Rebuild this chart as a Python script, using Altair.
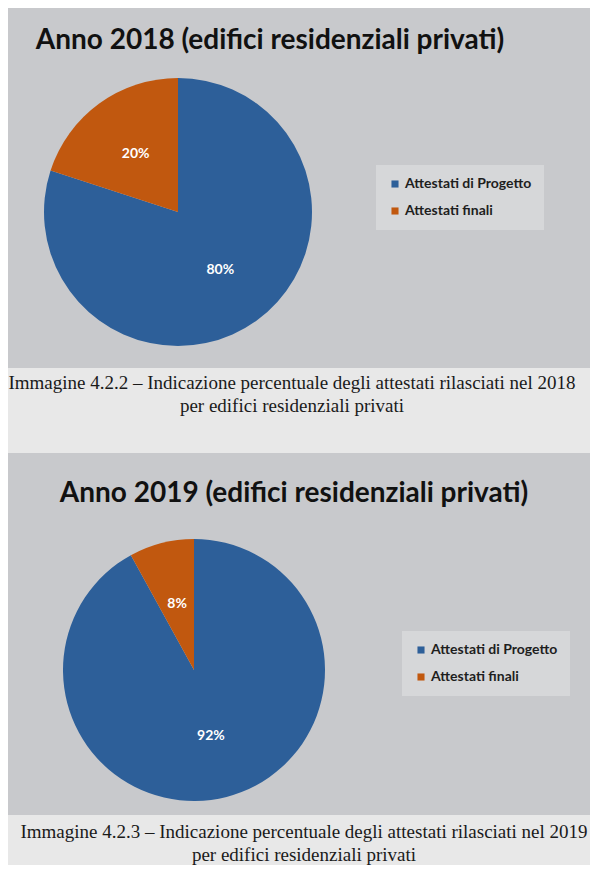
import altair as alt
import pandas as pd

categories = ["Attestati di Progetto", "Attestati finali"]
values_2018 = [80, 20]
values_2019 = [92, 8]
labels_2018 = ["80%", "20%"]
labels_2019 = ["92%", "8%"]
titles = ["Anno 2018 (edifici residenziali privati)", "Anno 2019 (edifici residenziali privati)"]
captions = [
    "Immagine 4.2.2 – Indicazione percentuale degli attestati rilasciati nel 2018\nper edifici residenziali privati",
    "Immagine 4.2.3 – Indicazione percentuale degli attestati rilasciati nel 2019\nper edifici residenziali privati",
]
colors = ["#2d5f99", "#c1580f"]

PANEL_W = 582
PANEL_BG = "#c8c9cc"
PAGE_BG = "#e8e8e8"


def pie_panel(values, labels, title, height, cx, cy, r, label_r, title_x, title_y, leg_x, leg_y):
    df = pd.DataFrame({"cat": categories, "val": values, "lab": labels, "ord": [0, 1]})
    base = alt.Chart(df).encode(
        theta=alt.Theta("val:Q", stack=True),
        order=alt.Order("ord:Q"),
    )
    arc = base.mark_arc(radius=r, stroke=None).encode(
        x=alt.value(cx), y=alt.value(cy),
        color=alt.Color(
            "cat:N",
            scale=alt.Scale(domain=categories, range=colors),
            sort=categories,
            legend=alt.Legend(
                title=None, orient="none", legendX=leg_x, legendY=leg_y,
                symbolType="square", symbolSize=50, symbolStrokeWidth=0,
                labelFont="Lato", labelFontSize=14, labelColor="#1e1e1e",
                labelFontWeight="bold", rowPadding=13, padding=12,
                fillColor="#d6d7d9", labelLimit=300, symbolOffset=0, labelOffset=3,
            ),
        ),
    )
    txt = base.mark_text(
        radius=label_r, font="Lato", fontSize=14, fontWeight="bold", color="white"
    ).encode(x=alt.value(cx), y=alt.value(cy), text="lab:N")
    tdf = pd.DataFrame({"t": [title]})
    ttl = alt.Chart(tdf).mark_text(
        font="Lato", fontSize=28, fontWeight="bold", color="#111111", align="center", baseline="middle"
    ).encode(x=alt.value(title_x), y=alt.value(title_y), text="t:N")
    return alt.layer(arc, txt, ttl).properties(
        width=PANEL_W, height=height, view=alt.ViewBackground(fill=PANEL_BG, stroke=None)
    )


def caption_panel(text, height, cx, y1):
    cdf = pd.DataFrame({"c": [text]})
    return alt.Chart(cdf).mark_text(
        font="Liberation Serif", fontSize=19, color="#1a1a1a", align="center",
        baseline="middle", lineBreak="\n", lineHeight=23,
    ).encode(x=alt.value(cx), y=alt.value(y1), text="c:N").properties(
        width=PANEL_W, height=height, view=alt.ViewBackground(fill=PAGE_BG, stroke=None)
    )


p1 = pie_panel(values_2018, labels_2018, titles[0], 360, 170, 204, 134, 72, 262, 33, 368, 157)
c1 = caption_panel(captions[0], 85, 284, 15)
p2 = pie_panel(values_2019, labels_2019, titles[1], 362, 186, 217, 131, 68, 286, 41, 394, 178)
c2 = caption_panel(captions[1], 49, 296, 17)

chart = alt.vconcat(p1, c1, p2, c2, spacing=0).resolve_scale(
    color="independent"
).resolve_legend(color="independent").properties(
    background=PAGE_BG, padding=0
).configure_view(stroke=None)

chart.save("out.html", embed_options={"renderer": "svg", "actions": False})
